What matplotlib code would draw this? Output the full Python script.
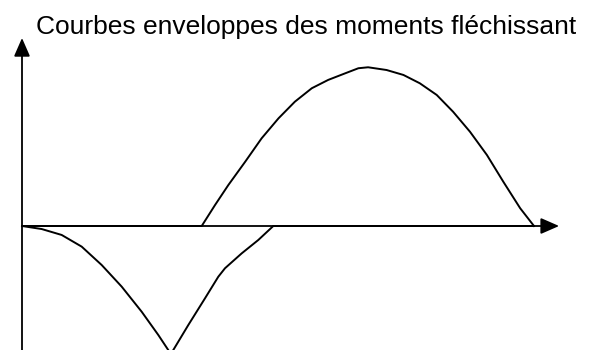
import matplotlib
matplotlib.use("Agg")
import matplotlib.pyplot as plt

plt.rcParams["font.family"] = ["Liberation Sans", "DejaVu Sans"]

x_max = [0.0, 3.51, 3.77, 4.03, 4.36, 4.68, 5.01, 5.33, 5.66, 5.98, 6.31,
         6.57, 6.76, 7.12, 7.45, 7.77, 8.10, 8.42, 8.75, 9.08, 9.40, 9.73, 10.0]
m_max = [0.0, 0.0, 1.31, 2.56, 4.02, 5.48, 6.73, 7.77, 8.61, 9.13, 9.54,
         9.86, 9.92, 9.75, 9.44, 8.92, 8.19, 7.14, 5.89, 4.44, 2.77, 1.11, 0.0]

x_min = [0.0, 0.385, 0.775, 1.166, 1.557, 1.947, 2.338, 2.662, 2.908,
         3.248, 3.574, 3.834, 3.965, 4.291, 4.615, 4.908, 10.0]
m_min = [0.0, -0.19, -0.56, -1.29, -2.44, -3.79, -5.36, -6.81, -8.0,
         -6.19, -4.52, -3.17, -2.64, -1.71, -0.875, 0.0, 0.0]

titre = "Courbes enveloppes des moments fléchissant"

# fin des flèches des axes
x_fleche = 10.49
y_fleche = 11.75

fig = plt.figure(figsize=(5.94, 3.5), dpi=100)
ax = fig.add_axes([0, 0, 1, 1])
ax.set_xlim(-22 / 51.2, (594 - 22) / 51.2)
ax.set_ylim((226 - 350) / 16, 226 / 16)
ax.axis("off")

ax.plot(x_max, m_max, color="black", lw=1.4, solid_joinstyle="round")
ax.plot(x_min, m_min, color="black", lw=1.4, solid_joinstyle="round")

fleche = dict(arrowstyle="-|>,head_length=0.8,head_width=0.35", mutation_scale=14,
              lw=1.3, color="black", shrinkA=0, shrinkB=0)
ax.annotate("", xy=(x_fleche, 0), xytext=(0, 0), arrowprops=fleche)
ax.annotate("", xy=(0, y_fleche), xytext=(0, -9), arrowprops=fleche)

fig.text(0.516, 1 - 34 / 350, titre, ha="center", va="baseline", fontsize=19)

fig.savefig("out.png", dpi=100, facecolor="white")
